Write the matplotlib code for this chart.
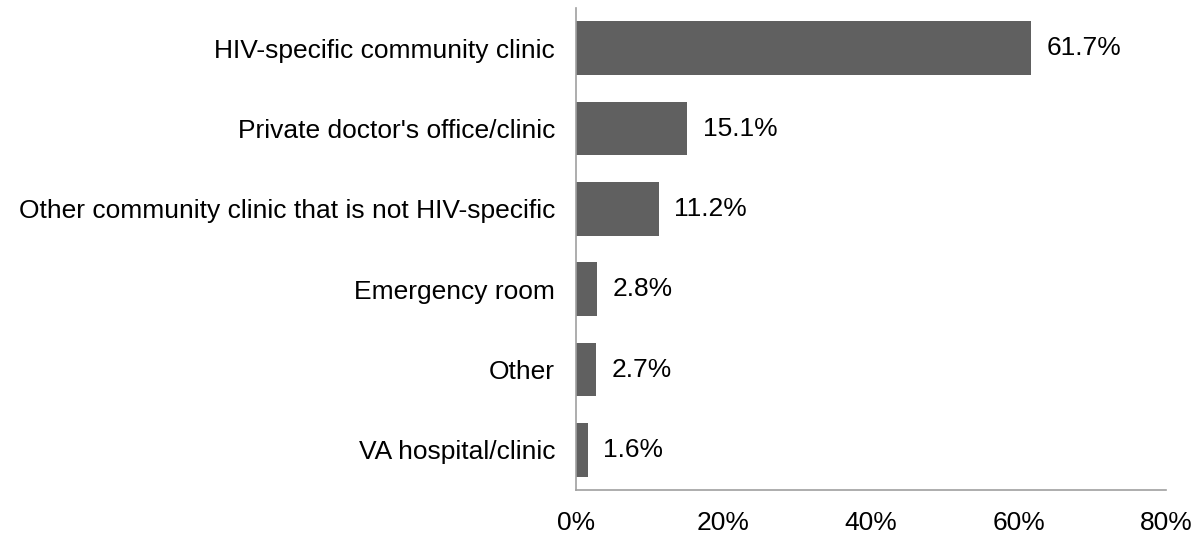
import matplotlib.pyplot as plt
from matplotlib.ticker import FuncFormatter

plt.rcParams['font.family'] = ['Liberation Sans', 'DejaVu Sans']

categories = ["HIV-specific community clinic",
              "Private doctor's office/clinic",
              "Other community clinic that is not HIV-specific",
              "Emergency room",
              "Other",
              "VA hospital/clinic"]
values = [61.7, 15.1, 11.2, 2.8, 2.7, 1.6]
xticks = [0, 20, 40, 60, 80]

fig = plt.figure(figsize=(12, 5.37), dpi=100)
ax = fig.add_axes([0.48, 0.0875, 0.4917, 0.8975])

ypos = list(range(len(categories)))
ax.barh(ypos, values, height=0.67, color='#606060')
for y, v in zip(ypos, values):
    ax.text(v + 2.1, y, f"{v:.1f}%", va='center', ha='left', fontsize=19, color='black')

ax.set_yticks(ypos)
ax.set_yticklabels(categories, fontsize=19)
ax.set_ylim(5.5, -0.5)
ax.set_xlim(0, 80)
ax.set_xticks(xticks)
ax.xaxis.set_major_formatter(FuncFormatter(lambda x, p: f"{x:.0f}%"))
ax.tick_params(axis='x', labelsize=19, length=0, pad=15)
ax.tick_params(axis='y', length=0, pad=15)

for s in ['top', 'right']:
    ax.spines[s].set_visible(False)
for s in ['left', 'bottom']:
    ax.spines[s].set_color('#a0a0a0')
    ax.spines[s].set_linewidth(1.2)

fig.savefig('out.png', dpi=100)
